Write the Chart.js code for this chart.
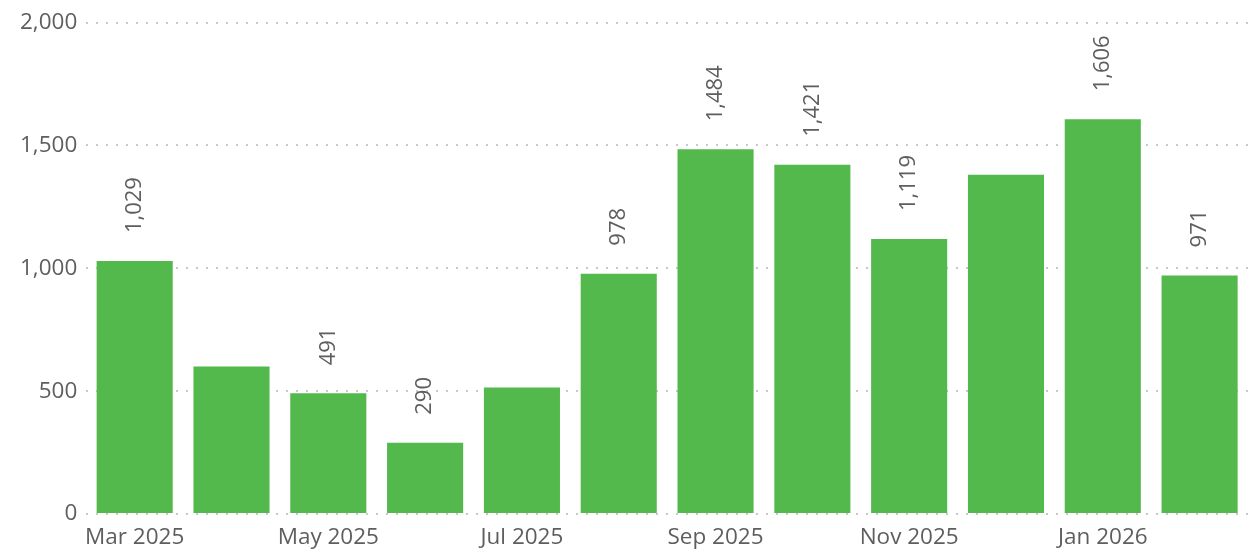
<!DOCTYPE html>
<html>
<head>
<meta charset="utf-8">
<script src="https://cdn.jsdelivr.net/npm/chart.js@4"></script>
<style>
  html, body { margin: 0; padding: 0; background: #fff; }
  #wrap { width: 1249px; height: 553px; }
</style>
</head>
<body>
<div id="wrap"><canvas id="chart"></canvas></div>
<script>
/* Monthly totals — green bars, rotated value labels */

const MONTHS = [
    "Mar 2025", "Apr 2025", "May 2025", "Jun 2025", "Jul 2025", "Aug 2025",
    "Sep 2025", "Oct 2025", "Nov 2025", "Dec 2025", "Jan 2026", "Feb 2026",
];
const VALUES = [1029, 600, 491, 290, 515, 978, 1484, 1421, 1119, 1380, 1606, 971];
// labels the original shows (others were hidden)
const SHOW_LABEL = [true, false, true, true, false, true, true, true, true, false, true, true];
const Y_TICKS = [0, 500, 1000, 1500, 2000];

const FONT = "'Open Sans', 'Noto Sans', sans-serif";
const TEXT = "#5e5e5e";
const BAR = "#53b94c";

const fmt = (v) => v.toLocaleString("en-US");

/* === value labels drawn above bars, rotated === */
const barLabels = {
    id: "barLabels",
    afterDatasetsDraw(chart) {
        const { ctx } = chart;
        const meta = chart.getDatasetMeta(0);
        ctx.save();
        ctx.font = `22px ${FONT}`;
        ctx.fillStyle = TEXT;
        ctx.textAlign = "left";
        ctx.textBaseline = "middle";
        meta.data.forEach((bar, i) => {
            if (!SHOW_LABEL[i]) return;
            ctx.save();
            ctx.translate(bar.x, bar.y - 28);
            ctx.rotate(-Math.PI / 2);
            ctx.fillText(fmt(VALUES[i]), 0, 0);
            ctx.restore();
        });
        ctx.restore();
    },
};

new Chart(document.getElementById("chart"), {
    type: "bar",
    data: {
        labels: MONTHS,
        datasets: [{
            data: VALUES,
            backgroundColor: BAR,
            barPercentage: 0.786,
            categoryPercentage: 1,
        }],
    },
    options: {
        responsive: true,
        maintainAspectRatio: false,
        animation: false,
        layout: { padding: { left: 11, right: 1, top: 6, bottom: 0 } },
        scales: {
            x: {
                grid: { display: false },
                border: { display: false },
                ticks: {
                    autoSkip: false,
                    maxRotation: 0,
                    color: TEXT,
                    font: { family: FONT, size: 22.5 },
                    padding: 2,
                    callback: (v, i) => (i % 2 === 0 ? MONTHS[i] : ""),
                },
            },
            y: {
                min: 0,
                max: 2000,
                afterBuildTicks: (axis) => { axis.ticks = Y_TICKS.map((v) => ({ value: v })); },
                grid: { color: "#c8c8c8", lineWidth: 2, drawTicks: false },
                border: { display: false, dash: [2, 8] },
                ticks: {
                    color: TEXT,
                    font: { family: FONT, size: 22.5 },
                    padding: 9,
                    callback: (v) => fmt(v),
                },
            },
        },
        plugins: {
            legend: { display: false },
            tooltip: { enabled: false },
        },
    },
    plugins: [barLabels],
});
</script>
</body>
</html>
